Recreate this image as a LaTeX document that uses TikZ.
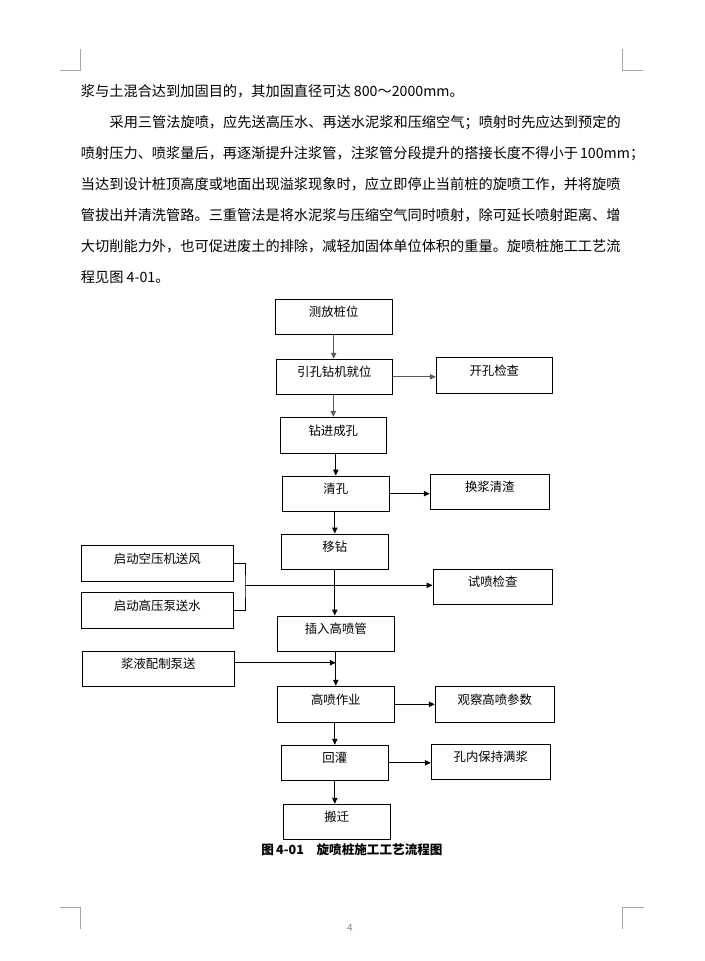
\documentclass[tikz,border=0pt]{standalone}
\usepackage{fontspec}
\setmainfont{Noto Sans CJK SC}
\usetikzlibrary{arrows.meta}
\XeTeXlinebreaklocale "zh"
\XeTeXlinebreakskip=0pt plus 1pt
\newcommand{\fullline}[2]{\hbox to #1{#2}}
\begin{document}
\begin{tikzpicture}[
					x=0.75pt, y=-0.75pt,
					flowbox/.style={draw, line width=0.75pt, inner sep=0pt, text height=6pt, text depth=6pt, font=\fontsize{9.3}{11}\selectfont},
					flowarrow/.style={-{Triangle[width=4pt,length=4.5pt]}, line width=0.75pt},
					bodyline/.style={anchor=base west, inner sep=0pt, font=\fontsize{10.65}{13}\selectfont},
					cropmark/.style={draw=gray!70, line width=0.75pt}
				]
				\useasboundingbox (0,0) rectangle (704,961);
				% page corners
				\draw[cropmark] (60,70.7) -- (80.7,70.7) -- (80.7,49.3);
				\draw[cropmark] (643.3,70.7) -- (622.3,70.7) -- (622.3,49.3);
				\draw[cropmark] (60,907.3) -- (80.7,907.3) -- (80.7,929);
				\draw[cropmark] (643.7,907.3) -- (622.3,907.3) -- (622.3,929);
				% text above the chart
				\node[bodyline] (line1) at (80.7,96.3) {浆与土混合达到加固目的，其加固直径可达 800～2000mm。};
				\node[bodyline] (line2) at (109.3,127.3) {\fullline{383pt}{采用三管法旋喷，应先送高压水、再送水泥浆和压缩空气；喷射时先应达到预定的}};
				\node[bodyline] (line3) at (80.7,158.3) {\fullline{404.5pt}{喷射压力、喷浆量后，再逐渐提升注浆管，注浆管分段提升的搭接长度不得小于 100mm；}};
				\node[bodyline] (line4) at (80.7,189.3) {\fullline{404.5pt}{当达到设计桩顶高度或地面出现溢浆现象时，应立即停止当前桩的旋喷工作，并将旋喷}};
				\node[bodyline] (line5) at (80.7,220.3) {\fullline{404.5pt}{管拔出并清洗管路。三重管法是将水泥浆与压缩空气同时喷射，除可延长喷射距离、增}};
				\node[bodyline] (line6) at (80.7,251.3) {\fullline{404.5pt}{大切削能力外，也可促进废土的排除，减轻加固体单位体积的重量。旋喷桩施工工艺流}};
				\node[bodyline] (line7) at (80.7,282.3) {程见图 4-01。};
				% main column
				\node[flowbox, minimum width=88pt, minimum height=26.25pt] (cefang) at (333.7,316.8) {测放桩位};
				\node[flowbox, minimum width=87pt, minimum height=26.25pt] (yinkong) at (334.3,376.8) {引孔钻机就位};
				\node[flowbox, minimum width=79.5pt, minimum height=27pt] (zuanjin) at (333.3,435.3) {钻进成孔};
				\node[flowbox, minimum width=80.25pt, minimum height=26.5pt] (qingkong) at (335.8,493.7) {清孔};
				\node[flowbox, minimum width=80.25pt, minimum height=26.5pt] (yizuan) at (334.8,551.7) {移钻};
				\node[flowbox, minimum width=87.75pt, minimum height=26.5pt] (charu) at (335.8,633.7) {插入高喷管};
				\node[flowbox, minimum width=87.75pt, minimum height=27pt] (gaopen) at (335.8,704.3) {高喷作业};
				\node[flowbox, minimum width=80.25pt, minimum height=26.25pt] (huiguan) at (334.8,762.8) {回灌};
				\node[flowbox, minimum width=80.25pt, minimum height=26.25pt] (banqian) at (336.8,821.8) {搬迁};
				% right column
				\node[flowbox, minimum width=87pt, minimum height=27pt] (kaikong) at (494.3,375.3) {开孔检查};
				\node[flowbox, minimum width=89.25pt, minimum height=26.5pt] (huanjiang) at (489.8,491.7) {换浆清渣};
				\node[flowbox, minimum width=89.5pt, minimum height=26.25pt] (shipen) at (492.7,586.8) {试喷检查};
				\node[flowbox, minimum width=89.25pt, minimum height=27pt] (guancha) at (494.8,704.3) {观察高喷参数};
				\node[flowbox, minimum width=89.25pt, minimum height=26.25pt] (kongnei) at (490.8,761.8) {孔内保持满浆};
				% left column
				\node[flowbox, minimum width=114pt, minimum height=26.8pt] (kongya) at (157.3,563.2) {启动空压机送风};
				\node[flowbox, minimum width=114pt, minimum height=26.8pt] (gaoyabeng) at (157.3,610.2) {启动高压泵送水};
				\node[flowbox, minimum width=114pt, minimum height=26.25pt] (jiangye) at (158.3,668.8) {浆液配制泵送};
				\coordinate (junction) at (245,585.3);
				\coordinate (feed) at (335.8,662.7);
				% arrows
				\draw[flowarrow, draw=black!65, fill=black!65] (cefang.south) -- (cefang.south |- yinkong.north);
				\draw[flowarrow, draw=black!65, fill=black!65] (zuanjin.north |- yinkong.south) -- (zuanjin.north);
				\draw[flowarrow] (qingkong.north |- zuanjin.south) -- (qingkong.north);
				\draw[flowarrow] (yizuan.north |- qingkong.south) -- (yizuan.north);
				\draw[flowarrow] (yizuan.south) -- (yizuan.south |- charu.north);
				\draw[flowarrow] (charu.south) -- (gaopen.north);
				\draw[flowarrow] (huiguan.north |- gaopen.south) -- (huiguan.north);
				\draw[flowarrow] (huiguan.south) -- (huiguan.south |- banqian.north);
				\draw[flowarrow, draw=black!65, fill=black!65] (yinkong.east) -- (yinkong.east -| kaikong.west);
				\draw[flowarrow] (qingkong.east) -- (qingkong.east -| huanjiang.west);
				\draw[flowarrow] (gaopen.east) -- (gaopen.east -| guancha.west);
				\draw[flowarrow] (huiguan.east) -- (huiguan.east -| kongnei.west);
				\draw[line width=0.75pt] (kongya.east) -| (junction) |- (gaoyabeng.east);
				\draw[flowarrow] (junction) -- (junction -| shipen.west);
				\draw[flowarrow] (jiangye.east |- feed) -- (feed);
				% caption and page number
				\node[font=\fontsize{9.45}{11}\selectfont\bfseries] (caption) at (352,849.3) {图\,4-01\quad 旋喷桩施工工艺流程图};
				\node[font=\fontsize{7.5}{9}\selectfont, text=gray] (pagenum) at (350,928) {4};
			\end{tikzpicture}
\end{document}
